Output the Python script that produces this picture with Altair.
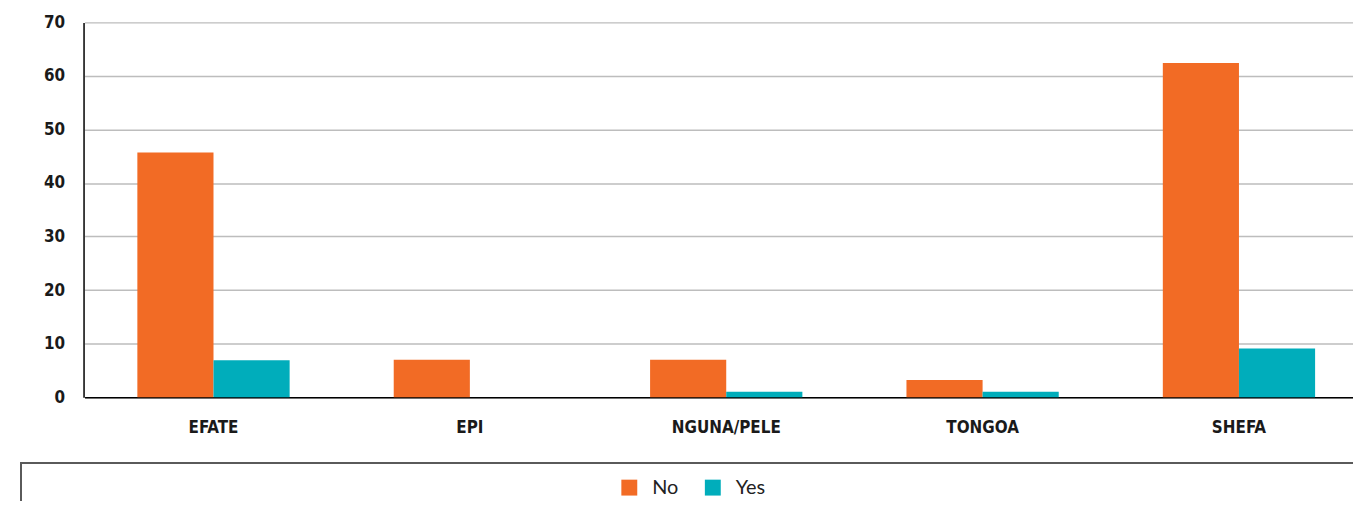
import altair as alt
import pandas as pd

regions = ["EFATE", "EPI", "NGUNA/PELE", "TONGOA", "SHEFA"]
no_values = [45.7, 7.0, 7.0, 3.2, 62.4]
yes_values = [6.9, 0.0, 1.0, 1.0, 9.1]
answers = ["No", "Yes"]
colors = ["#F26B25", "#00ADBB"]
y_ticks = [0, 10, 20, 30, 40, 50, 60, 70]

rows = []
for r, n, y in zip(regions, no_values, yes_values):
    rows.append({"region": r, "answer": "No", "value": n})
    rows.append({"region": r, "answer": "Yes", "value": y})
df = pd.DataFrame(rows)

COND = "'DejaVu Sans Condensed', 'Liberation Sans Narrow', sans-serif"
W, H = 1277, 377

bars = alt.Chart(df).mark_bar(stroke=None).encode(
    x=alt.X("region:N", sort=regions, title=None,
            scale=alt.Scale(range=[1, 1292], paddingInner=0.406, paddingOuter=0.206),
            axis=alt.Axis(labelAngle=0, labelFont=COND, labelFontSize=17,
                          labelFontWeight="bold", labelColor="#1a1a1a",
                          labelPadding=23, ticks=False, tickSize=0,
                          domainColor="#000000", domainWidth=1.5, grid=False)),
    xOffset=alt.XOffset("answer:N", sort=answers,
                        scale=alt.Scale(paddingInner=0, paddingOuter=0)),
    y=alt.Y("value:Q", title=None,
            scale=alt.Scale(domain=[0, 70], nice=False),
            axis=alt.Axis(values=y_ticks, labelFont=COND, labelFontSize=17,
                          labelFontWeight="bold", labelColor="#1a1a1a",
                          labelPadding=19, ticks=False, tickSize=0,
                          domainColor="#000000", domainWidth=1.5,
                          gridColor="#BDBDBD", gridWidth=1.5)),
    color=alt.Color("answer:N", sort=answers,
                    scale=alt.Scale(domain=answers, range=colors),
                    legend=alt.Legend(title=None, orient="none", direction="horizontal",
                                      legendX=539, legendY=458,
                                      symbolType="square", symbolSize=256,
                                      symbolStrokeWidth=0, symbolOpacity=1,
                                      labelFont="Lato", labelFontSize=20,
                                      labelColor="#222222", labelOffset=13,
                                      columnPadding=24, padding=0)),
)

frame_top = alt.Chart(df).mark_rule(color="#5a5a5a", strokeWidth=1.5).encode(
    x=alt.value(-63), x2=alt.value(W + 10), y=alt.value(443)
)
frame_left = alt.Chart(df).mark_rule(color="#5a5a5a", strokeWidth=1.5).encode(
    x=alt.value(-63), y=alt.value(443), y2=alt.value(500)
)

chart = alt.layer(bars, frame_top, frame_left).properties(
    width=W, height=H,
    autosize=alt.AutoSizeParams(type="none"),
    padding={"left": 76, "top": 13, "right": 0, "bottom": 103},
).configure_view(stroke=None)

chart.save("out.html", embed_options={"renderer": "svg", "actions": False})
